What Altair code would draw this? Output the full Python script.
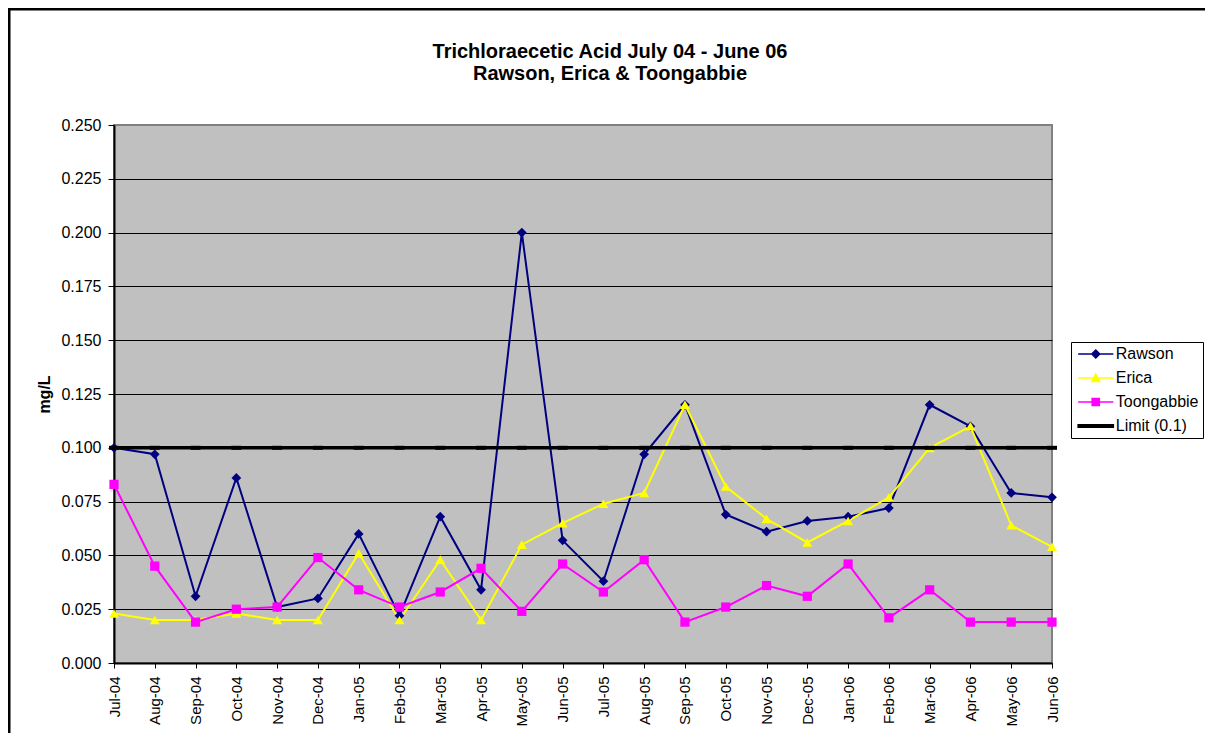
import altair as alt
import pandas as pd

FONT = "Liberation Sans, Arial, sans-serif"

months = ["Jul-04", "Aug-04", "Sep-04", "Oct-04", "Nov-04", "Dec-04",
          "Jan-05", "Feb-05", "Mar-05", "Apr-05", "May-05", "Jun-05",
          "Jul-05", "Aug-05", "Sep-05", "Oct-05", "Nov-05", "Dec-05",
          "Jan-06", "Feb-06", "Mar-06", "Apr-06", "May-06", "Jun-06"]

rawson = [0.100, 0.097, 0.031, 0.086, 0.026, 0.030,
          0.060, 0.022, 0.068, 0.034, 0.200, 0.057,
          0.038, 0.097, 0.120, 0.069, 0.061, 0.066,
          0.068, 0.072, 0.120, 0.110, 0.079, 0.077]

erica = [0.023, 0.020, 0.020, 0.023, 0.020, 0.020,
         0.051, 0.020, 0.048, 0.020, 0.055, 0.065,
         0.074, 0.079, 0.120, 0.082, 0.067, 0.056,
         0.066, 0.077, 0.100, 0.110, 0.064, 0.054]

toongabbie = [0.083, 0.045, 0.019, 0.025, 0.026, 0.049,
              0.034, 0.026, 0.033, 0.044, 0.024, 0.046,
              0.033, 0.048, 0.019, 0.026, 0.036, 0.031,
              0.046, 0.021, 0.034, 0.019, 0.019, 0.019]

limit = [0.1] * 24

series_names = ["Rawson", "Erica", "Toongabbie", "Limit (0.1)"]
series_colors = ["#000080", "#FFFF00", "#FF00FF", "#000000"]
y_ticks = [0.000, 0.025, 0.050, 0.075, 0.100, 0.125,
           0.150, 0.175, 0.200, 0.225, 0.250]

title_lines = ["Trichloraecetic Acid July 04 - June 06",
               "Rawson, Erica & Toongabbie"]

# legend symbols: a line with the marker in its middle
legend_paths = [
    "M-4.4,0H4.4M0,-1L1,0L0,1L-1,0Z",
    "M-4.4,0H4.4M0,-1L1,0.85H-1Z",
    "M-4.4,0H4.4M-0.9,-0.9H0.9V0.9H-0.9Z",
    "M-4.4,-0.3H4.4V0.3H-4.4Z",
]

rows = []
for name, vals in zip(series_names, [rawson, erica, toongabbie, limit]):
    for m, v in zip(months, vals):
        rows.append({"month": m, "series": name, "value": v})
df = pd.DataFrame(rows)

x = alt.X("month:O", sort=months,
          scale=alt.Scale(type="point", padding=0),
          axis=alt.Axis(title=None, labelAngle=270, labelAlign="right",
                        labelBaseline="middle", labelPadding=8, tickSize=5,
                        labelFontSize=15, labelFont=FONT, labelColor="black",
                        domainColor="black", domainWidth=2,
                        tickColor="black", tickWidth=1, grid=False))
y = alt.Y("value:Q",
          scale=alt.Scale(domain=[0, 0.25], nice=False, zero=True),
          axis=alt.Axis(values=y_ticks, format=".3f", title="mg/L",
                        titleFontSize=16, titleFontWeight="bold",
                        titleFont=FONT, titleColor="black", titlePadding=8,
                        labelFontSize=16, labelFont=FONT, labelColor="black",
                        labelPadding=7, tickSize=6, tickColor="black",
                        domainColor="black", domainWidth=2,
                        grid=True, gridWidth=1,
                        gridColor=alt.condition("datum.value >= 0.25",
                                                alt.value("#808080"),
                                                alt.value("black"))))

base = alt.Chart(df)

lines = base.transform_filter(
    alt.FieldOneOfPredicate(field="series", oneOf=series_names[:3])
).mark_line(strokeWidth=2).encode(
    x=x, y=y,
    color=alt.Color("series:N",
                    scale=alt.Scale(domain=series_names[:3],
                                    range=series_colors[:3]),
                    legend=None),
)

shapes = ["diamond", "triangle-up", "square"]
sizes = [95, 100, 85]
point_layers = []
for name, shp, col, sz in zip(series_names[:3], shapes, series_colors[:3], sizes):
    point_layers.append(
        base.transform_filter(alt.datum.series == name)
        .mark_point(shape=shp, filled=True, size=sz, color=col, opacity=1)
        .encode(x=x, y=y)
    )

limit_line = base.transform_filter(alt.datum.series == series_names[3]).mark_line(
    color="black", strokeWidth=3.5).encode(x=x, y=y)
limit_ticks = base.transform_filter(alt.datum.series == series_names[3]).mark_tick(
    color="black", orient="horizontal", size=10, thickness=4, opacity=1).encode(x=x, y=y)

leg = alt.Legend(title=None, orient="none", legendX=957, legendY=217,
                 padding=4, strokeColor="black", fillColor="white",
                 labelFontSize=16, labelFont=FONT, labelColor="black",
                 rowPadding=8, symbolSize=64, symbolStrokeWidth=1.5,
                 symbolOffset=12.75, labelOffset=12)

legend_layer = base.transform_filter("false").mark_point(
    size=64, filled=True, opacity=1, strokeWidth=1.5).encode(
    fill=alt.Fill("series:N", scale=alt.Scale(domain=series_names, range=series_colors), legend=leg),
    stroke=alt.Stroke("series:N", scale=alt.Scale(domain=series_names, range=series_colors), legend=leg),
    shape=alt.Shape("series:N", scale=alt.Scale(domain=series_names, range=legend_paths), legend=leg),
)

frame_df = pd.DataFrame({"a": [0]})
frame_v = alt.Chart(frame_df).mark_rule(color="black", strokeWidth=3).encode(
    x=alt.value(-105), y=alt.value(-117.5), y2=alt.value(800))
frame_h = alt.Chart(frame_df).mark_rule(color="black", strokeWidth=3).encode(
    x=alt.value(-106.5), x2=alt.value(1100), y=alt.value(-116))

chart = alt.layer(
    lines, *point_layers, limit_line, limit_ticks, legend_layer, frame_v, frame_h
).properties(
    width=938, height=538,
    padding={"left": 106, "top": 117, "right": 153, "bottom": 70},
    autosize=alt.AutoSizeParams(type="none"),
    title=alt.TitleParams(text=title_lines, fontSize=20, fontWeight="bold",
                          font=FONT, color="black", anchor="middle",
                          dx=27, offset=-78, lineHeight=22),
    background="white",
    view=alt.ViewBackground(fill="#C0C0C0", stroke="#808080", strokeWidth=2),
).configure_view(
    fill="#C0C0C0", stroke="#808080", strokeWidth=2
)

chart.save("out.html", embed_options={"renderer": "svg", "actions": False})
